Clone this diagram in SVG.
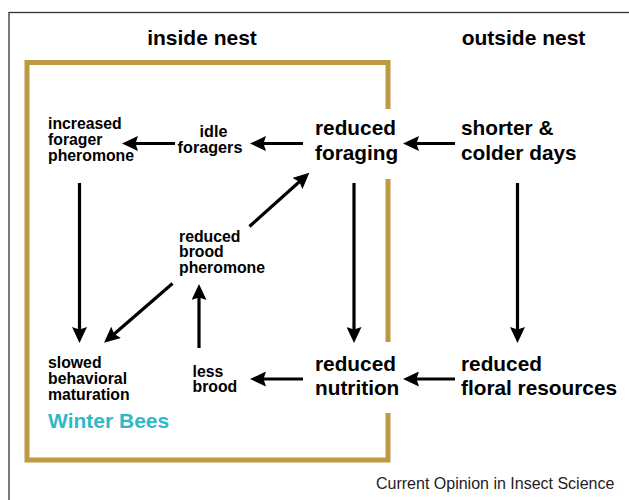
<svg xmlns="http://www.w3.org/2000/svg" width="629" height="500" viewBox="0 0 629 500">
<style>
text{font-family:"Liberation Sans",Arial,Helvetica,sans-serif;font-weight:bold;fill:#000}
.big{font-size:20.8px}
.mid{font-size:15.8px}
.hdr{font-size:21px}
.conn line{stroke:#000;stroke-width:3.2;fill:none}
</style>
<defs>
<marker id="ah" markerUnits="userSpaceOnUse" markerWidth="17" markerHeight="15" refX="6" refY="7.5" orient="auto" viewBox="0 0 17 15">
<path d="M0,0 L16,7.5 L0,15 L2.5,7.5 z" fill="#000"/>
</marker>
</defs>
<rect width="629" height="500" fill="#fff"/>
<rect x="9" y="12.5" width="700" height="600" fill="none" stroke="#333" stroke-width="1.3"/>
<g id="nest-box" fill="none" stroke="#be9842" stroke-width="5">
<path d="M388,109 V62.5 H27 V460 H388 V413"/>
<path d="M388,179 V342"/>
</g>
<g id="hdr-inside"><text class="hdr" x="202" y="45" text-anchor="middle">inside nest</text></g>
<g id="hdr-outside"><text class="hdr" x="523.5" y="45" text-anchor="middle">outside nest</text></g>
<g id="increased-forager-pheromone"><text class="mid" x="48" y="129">increased</text><text class="mid" x="48" y="145">forager</text><text class="mid" x="48" y="161">pheromone</text></g>
<g id="idle-foragers"><text text-anchor="middle" style="font-size:16.2px"><tspan x="213.5" y="136.5">idle</tspan><tspan x="210" y="153">foragers</tspan></text></g>
<g id="reduced-foraging"><text class="big" x="315" y="135">reduced</text><text class="big" x="315" y="160">foraging</text></g>
<g id="shorter-colder-days"><text class="big" x="461" y="135">shorter &amp;</text><text class="big" x="461" y="160">colder days</text></g>
<g id="reduced-brood-pheromone"><text class="mid" x="179" y="241.5">reduced</text><text class="mid" x="179" y="257">brood</text><text class="mid" x="179" y="272.5">pheromone</text></g>
<g id="slowed-maturation"><text class="mid" x="48" y="368">slowed</text><text class="mid" x="48" y="384">behavioral</text><text class="mid" x="48" y="400">maturation</text><text x="48" y="428" style="font-size:21px;fill:#2fb8c8">Winter Bees</text></g>
<g id="less-brood"><text class="mid" x="192.5" y="376.5">less</text><text class="mid" x="192.5" y="392">brood</text></g>
<g id="reduced-nutrition"><text class="big" x="315" y="370.5">reduced</text><text class="big" x="315" y="395">nutrition</text></g>
<g id="reduced-floral-resources"><text class="big" x="461" y="370.5">reduced</text><text class="big" x="461" y="395">floral resources</text></g>
<g id="connectors" class="conn">
<line x1="303" y1="143.5" x2="260" y2="143.5" marker-end="url(#ah)"/>
<line x1="175" y1="143.5" x2="132" y2="143.5" marker-end="url(#ah)"/>
<line x1="455" y1="143.5" x2="413" y2="143.5" marker-end="url(#ah)"/>
<line x1="455" y1="379" x2="413" y2="379" marker-end="url(#ah)"/>
<line x1="303" y1="379" x2="260" y2="379" marker-end="url(#ah)"/>
<line x1="79.5" y1="183" x2="79.5" y2="333" marker-end="url(#ah)"/>
<line x1="354" y1="183" x2="354" y2="333" marker-end="url(#ah)"/>
<line x1="517.5" y1="183" x2="517.5" y2="333" marker-end="url(#ah)"/>
<line x1="199" y1="348" x2="199" y2="294" marker-end="url(#ah)"/>
<line x1="249.5" y1="226.5" x2="301.9" y2="179.5" marker-end="url(#ah)"/>
<line x1="172.5" y1="283.5" x2="111.6" y2="336.3" marker-end="url(#ah)"/>
</g>
<g id="credit"><text x="376" y="489" style="font-size:16px;font-weight:normal;fill:#222">Current Opinion in Insect Science</text></g>
</svg>
